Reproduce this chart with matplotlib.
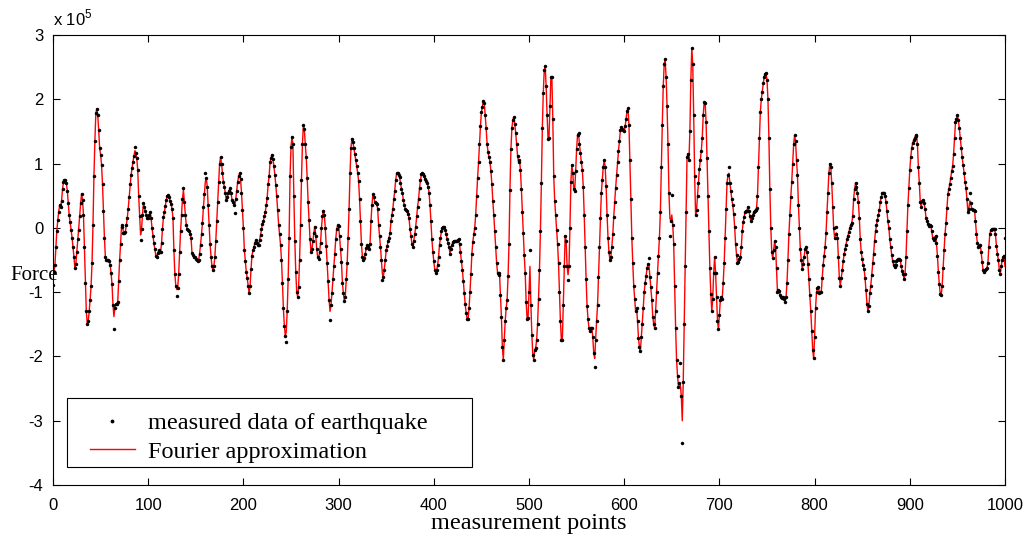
import matplotlib
matplotlib.use("Agg")
import matplotlib.pyplot as plt
from matplotlib.patches import Rectangle
import numpy as np

# Fourier approximation (red curve), values in units of 1e5, one per measurement point 0..1000
fourier = [
    -0.76, -0.68, -0.58, -0.30, -0.05, 0.12, 0.25, 0.36, 0.32, 0.42,
    0.60, 0.72, 0.75, 0.74, 0.70, 0.58, 0.38, 0.20, 0.09, -0.03,
    -0.15, -0.30, -0.45, -0.63, -0.56, -0.38, -0.18, -0.03, 0.18, 0.38,
    0.53, 0.44, 0.20, -0.30, -0.85, -1.30, -1.49, -1.45, -1.30, -1.12,
    -0.90, -0.55, 0.05, 0.80, 1.35, 1.78, 1.85, 1.75, 1.52, 1.24,
    1.14, 0.98, 0.68, 0.27, -0.15, -0.45, -0.50, -0.50, -0.50, -0.52,
    -0.57, -0.70, -0.88, -1.20, -1.38, -1.25, -1.18, -1.18, -1.15, -0.83,
    -0.50, -0.25, 0.02, 0.05, -0.08, -0.08, -0.06, 0.05, 0.15, 0.30,
    0.48, 0.68, 0.82, 0.93, 1.03, 1.12, 1.20, 1.17, 1.08, 0.90,
    0.50, 0.18, -0.11, -0.02, 0.20, 0.38, 0.33, 0.26, 0.20, 0.15,
    0.16, 0.20, 0.25, 0.15, 0.00, -0.12, -0.24, -0.33, -0.43, -0.46,
    -0.39, -0.35, -0.37, -0.38, -0.24, -0.02, 0.17, 0.24, 0.34, 0.44,
    0.50, 0.51, 0.48, 0.42, 0.37, 0.30, 0.15, -0.35, -0.72, -0.90,
    -0.96, -0.93, -0.72, -0.38, -0.05, 0.20, 0.45, 0.59, 0.41, 0.20,
    0.05, -0.02, -0.03, -0.05, -0.09, -0.16, -0.39, -0.42, -0.45, -0.46,
    -0.48, -0.50, -0.51, -0.50, -0.40, -0.26, -0.10, 0.08, 0.32, 0.52,
    0.72, 0.78, 0.64, 0.35, 0.05, -0.25, -0.45, -0.60, -0.66, -0.60,
    -0.45, -0.20, 0.10, 0.40, 0.72, 1.00, 1.10, 1.00, 0.85, 0.71,
    0.64, 0.54, 0.44, 0.48, 0.54, 0.58, 0.62, 0.54, 0.44, 0.40,
    0.35, 0.36, 0.45, 0.58, 0.72, 0.80, 0.85, 0.76, 0.55, 0.28,
    0.00, -0.34, -0.52, -0.68, -0.78, -0.90, -1.02, -0.90, -0.64, -0.43,
    -0.35, -0.30, -0.24, -0.19, -0.23, -0.27, -0.26, -0.19, -0.11, -0.02,
    0.06, 0.11, 0.18, 0.25, 0.35, 0.47, 0.68, 0.80, 1.02, 1.09,
    1.14, 1.07, 0.96, 0.83, 0.67, 0.49, 0.28, 0.05, -0.10, -0.26,
    -0.50, -0.85, -1.25, -1.52, -1.68, -1.62, -1.30, -0.80, -0.15, 0.80,
    1.26, 1.42, 1.30, 0.50, -0.20, -0.68, -1.00, -1.07, -0.92, -0.50,
    0.05, 0.75, 1.30, 1.60, 1.54, 1.30, 1.10, 0.78, 0.40, 0.12,
    -0.18, -0.37, -0.33, -0.20, -0.08, 0.02, -0.12, -0.33, -0.45, -0.48,
    -0.38, -0.24, 0.00, 0.18, 0.27, 0.20, 0.00, -0.28, -0.55, -0.82,
    -1.12, -1.30, -1.20, -1.02, -0.80, -0.60, -0.40, -0.17, -0.02, 0.04,
    0.03, -0.13, -0.33, -0.53, -0.85, -1.02, -1.13, -1.08, -0.80, -0.55,
    -0.15, 0.30, 0.85, 1.25, 1.39, 1.34, 1.25, 1.15, 1.05, 0.96,
    0.86, 0.73, 0.45, 0.10, -0.25, -0.45, -0.50, -0.47, -0.40, -0.32,
    -0.26, -0.30, -0.33, -0.25, 0.10, 0.35, 0.52, 0.48, 0.40, 0.38,
    0.37, 0.30, 0.05, -0.12, -0.30, -0.50, -0.72, -0.76, -0.65, -0.50,
    -0.35, -0.28, -0.21, -0.15, -0.08, 0.10, 0.20, 0.30, 0.45, 0.58,
    0.75, 0.85, 0.86, 0.83, 0.79, 0.70, 0.61, 0.55, 0.43, 0.35,
    0.30, 0.28, 0.26, 0.22, 0.15, -0.02, -0.12, -0.25, -0.29, -0.20,
    -0.10, 0.02, 0.18, 0.33, 0.45, 0.62, 0.74, 0.84, 0.86, 0.84,
    0.80, 0.76, 0.73, 0.70, 0.64, 0.55, 0.35, 0.10, -0.18, -0.37,
    -0.52, -0.65, -0.70, -0.66, -0.58, -0.45, -0.26, -0.15, -0.05, 0.00,
    0.02, 0.02, -0.03, -0.10, -0.17, -0.24, -0.30, -0.40, -0.33, -0.27,
    -0.22, -0.20, -0.20, -0.20, -0.20, -0.19, -0.18, -0.25, -0.38, -0.52,
    -0.65, -0.83, -1.02, -1.19, -1.32, -1.42, -1.42, -1.25, -1.00, -0.72,
    -0.40, -0.22, -0.10, 0.00, 0.20, 0.50, 0.78, 1.02, 1.30, 1.58,
    1.80, 1.88, 1.98, 1.95, 1.75, 1.55, 1.30, 1.18, 1.10, 1.03,
    0.88, 0.68, 0.42, 0.20, -0.05, -0.30, -0.55, -0.70, -0.74, -0.70,
    -1.05, -1.38, -1.85, -2.05, -1.74, -1.45, -1.25, -1.12, -0.75, -0.25,
    0.59, 1.22, 1.55, 1.68, 1.72, 1.62, 1.48, 1.30, 1.12, 1.03,
    1.06, 0.90, 0.60, 0.25, -0.08, -0.42, -0.70, -1.15, -1.42, -1.40,
    -1.00, -0.60, -1.20, -1.66, -1.98, -2.05, -1.90, -1.87, -1.75, -1.50,
    -1.10, -0.65, -0.05, 0.70, 1.55, 2.10, 2.45, 2.52, 2.20, 1.75,
    1.38, 1.40, 1.90, 2.35, 2.35, 1.70, 0.80, 0.42, 0.20, -0.03,
    -0.25, -0.55, -1.00, -1.45, -1.75, -1.75, -1.20, -0.60, -0.12, -0.20,
    -0.60, -0.73, -0.60, 0.00, 0.72, 0.98, 0.85, 0.60, 0.58, 0.88,
    1.22, 1.45, 1.47, 1.30, 1.16, 1.02, 0.90, 0.64, 0.20, -0.30,
    -0.80, -1.22, -1.42, -1.56, -1.61, -1.55, -1.56, -1.70, -1.95, -2.03,
    -1.74, -1.45, -1.20, -0.76, -0.30, 0.15, 0.55, 0.75, 0.95, 1.06,
    0.95, 0.65, 0.20, -0.15, -0.38, -0.50, -0.45, -0.30, -0.10, 0.17,
    0.40, 0.62, 0.82, 1.02, 1.20, 1.35, 1.52, 1.57, 1.54, 1.52,
    1.50, 1.58, 1.70, 1.82, 1.86, 1.60, 1.05, 0.45, -0.15, -0.55,
    -0.90, -1.10, -1.30, -1.25, -1.45, -1.72, -1.85, -1.92, -1.70, -1.50,
    -1.25, -1.00, -0.86, -0.75, -0.63, -0.56, -0.58, -0.76, -0.92, -1.12,
    -1.38, -1.50, -1.56, -1.30, -1.00, -0.70, -0.44, -0.15, 0.25, 0.95,
    1.60, 2.20, 2.55, 2.62, 2.35, 1.90, 1.30, 0.55, 0.15, 0.10,
    0.20, 0.05, -0.25, -0.90, -1.55, -2.05, -2.30, -2.47, -2.42, -2.45,
    -2.62, -3.00, -2.40, -1.50, -0.60, 0.25, 1.10, 1.15, 1.05, 1.50,
    2.30, 2.80, 2.55, 1.75, 0.80, 0.20, 0.28, 0.50, 0.70, 0.92,
    1.06, 1.20, 1.40, 1.75, 1.96, 1.95, 1.65, 1.08, 0.49, -0.05,
    -0.63, -1.03, -1.30, -1.10, -0.70, -0.45, -0.70, -1.08, -1.45, -1.58,
    -1.35, -1.12, -1.07, -1.10, -0.85, -0.55, -0.15, 0.30, 0.70, 0.83,
    0.85, 0.70, 0.57, 0.45, 0.35, 0.22, 0.02, -0.25, -0.42, -0.54,
    -0.53, -0.48, -0.46, -0.30, -0.05, 0.09, 0.17, 0.25, 0.27, 0.27,
    0.33, 0.26, 0.18, 0.10, 0.15, 0.20, 0.24, 0.27, 0.28, 0.31,
    0.50, 0.95, 1.40, 1.80, 2.00, 2.12, 2.25, 2.35, 2.40, 2.41,
    2.30, 2.00, 1.40, 0.60, 0.00, -0.38, -0.47, -0.34, -0.21, -0.29,
    -0.63, -1.00, -0.96, -0.98, -1.05, -1.07, -1.09, -1.07, -1.10, -1.15,
    -1.08, -0.85, -0.50, -0.10, 0.20, 0.48, 0.72, 1.00, 1.30, 1.44,
    1.35, 1.05, 0.82, 0.36, 0.00, -0.33, -0.50, -0.64, -0.56, -0.45,
    -0.33, -0.29, -0.37, -0.56, -0.80, -1.05, -1.30, -1.60, -1.90, -2.03,
    -1.70, -1.25, -1.00, -0.94, -0.92, -1.01, -0.99, -1.00, -0.78, -0.57,
    -0.43, -0.30, -0.08, 0.25, 0.55, 0.85, 1.00, 0.95, 0.70, 0.33,
    0.00, -0.15, -0.10, -0.08, -0.15, -0.45, -0.78, -0.90, -0.78, -0.66,
    -0.52, -0.41, -0.33, -0.26, -0.18, -0.12, -0.07, 0.00, 0.05, 0.07,
    0.18, 0.45, 0.60, 0.70, 0.64, 0.54, 0.40, 0.15, -0.18, -0.38,
    -0.48, -0.58, -0.64, -0.78, -0.97, -1.18, -1.30, -1.22, -1.02, -0.90,
    -0.73, -0.55, -0.40, -0.20, -0.05, 0.04, 0.13, 0.20, 0.28, 0.41,
    0.48, 0.54, 0.55, 0.54, 0.50, 0.40, 0.26, 0.10, 0.00, -0.18,
    -0.30, -0.42, -0.52, -0.58, -0.61, -0.58, -0.52, -0.50, -0.49, -0.48,
    -0.50, -0.60, -0.67, -0.72, -0.80, -0.72, -0.45, -0.05, 0.35, 0.62,
    0.90, 1.10, 1.24, 1.32, 1.36, 1.40, 1.43, 1.45, 1.30, 0.95,
    0.70, 0.40, 0.32, 0.42, 0.44, 0.38, 0.30, 0.16, 0.10, 0.06,
    0.03, 0.05, 0.03, -0.05, -0.15, -0.19, -0.15, -0.13, -0.24, -0.43,
    -0.68, -0.88, -1.03, -1.05, -0.90, -0.62, -0.35, -0.10, 0.08, 0.31,
    0.52, 0.61, 0.68, 0.78, 0.88, 0.96, 1.15, 1.40, 1.64, 1.70,
    1.75, 1.68, 1.55, 1.40, 1.25, 1.10, 0.98, 0.86, 0.72, 0.62,
    0.45, 0.25, 0.30, 0.42, 0.38, 0.30, 0.28, 0.28, 0.27, 0.10,
    -0.10, -0.24, -0.29, -0.28, -0.26, -0.38, -0.53, -0.66, -0.68, -0.66,
    -0.64, -0.63, -0.55, -0.30, -0.10, -0.04, -0.02, -0.02, -0.02, -0.01,
    -0.10, -0.28, -0.40, -0.50, -0.65, -0.72, -0.60, -0.50, -0.45, -0.43,
    -0.60,
]

# measured points that visibly sit off the red curve (index: value in 1e5)
measured_offsets = {
    0: -0.89, 64: -1.57, 86: 1.26, 92: -0.19, 130: -1.06, 137: 0.62,
    160: 0.86, 191: 0.23, 245: -1.77, 291: -1.43, 346: -0.81, 501: -0.34,
    541: -0.81, 569: -2.16, 626: -0.47, 648: -0.13, 650: 0.51, 659: -2.10,
    661: -3.34, 710: 0.95, 823: 0.02, 963: 0.55, 1000: -0.16,
}

x_ticks = [0, 100, 200, 300, 400, 500, 600, 700, 800, 900, 1000]
y_ticks = [-4, -3, -2, -1, 0, 1, 2, 3]
legend_labels = ["measured data of earthquake", "Fourier approximation"]

points = np.arange(len(fourier))
measured = np.array(fourier, dtype=float)
for k, v in measured_offsets.items():
    measured[k] = v

sans = ["Liberation Sans", "DejaVu Sans"]
serif = ["Liberation Serif", "DejaVu Serif"]

fig = plt.figure(figsize=(10.33, 5.42), dpi=100)
ax = fig.add_axes([53 / 1033, 57 / 542, 952 / 1033, 450 / 542])

ax.plot(points, fourier, color="#ff0000", lw=1.0, zorder=2, label=legend_labels[1])
ax.plot(points, measured, linestyle="none", marker="o", markersize=2.5,
        markeredgewidth=0, color="black", zorder=3, label=legend_labels[0])

ax.set_xlim(0, 1000)
ax.set_ylim(-4, 3)
ax.set_xticks(x_ticks)
ax.set_yticks(y_ticks)
ax.set_xticklabels([str(t) for t in x_ticks], fontfamily=sans, fontsize=12)
ax.set_yticklabels([str(t) for t in y_ticks], fontfamily=sans, fontsize=12)
ax.tick_params(direction="in", top=True, right=True, length=5, width=0.8)
ax.tick_params(axis="x", pad=9)
ax.tick_params(axis="y", pad=7)
for s in ax.spines.values():
    s.set_linewidth(0.8)

ax.text(0.0, 1.014, r"x 10$^{\mathregular{5}}$", transform=ax.transAxes,
        fontfamily=sans, fontsize=12, ha="left", va="bottom")

ax.set_xlabel("measurement points", fontfamily=serif, fontsize=17.5, labelpad=0)
fig.text(10 / 1033, 1 - 276 / 542, "Force", fontfamily=serif, fontsize=15,
         ha="left", va="center")

# legend frame (MATLAB-style box wider than its content)
frame = Rectangle((14 / 952, 18 / 450), 405 / 952, 69 / 450, transform=ax.transAxes,
                  facecolor="white", edgecolor="black", lw=0.8, zorder=4)
ax.add_patch(frame)

handles, labels = ax.get_legend_handles_labels()
order = [1, 0]
leg = ax.legend([handles[i] for i in order], [labels[i] for i in order],
                loc="lower left", bbox_to_anchor=(37 / 952, 22 / 450),
                borderaxespad=0, frameon=False, prop={"family": serif, "size": 17.5},
                handlelength=1.85, handletextpad=0.53, borderpad=0,
                labelspacing=0.28, markerscale=1.1)
leg.set_zorder(5)

fig.savefig("out.png", dpi=100)
